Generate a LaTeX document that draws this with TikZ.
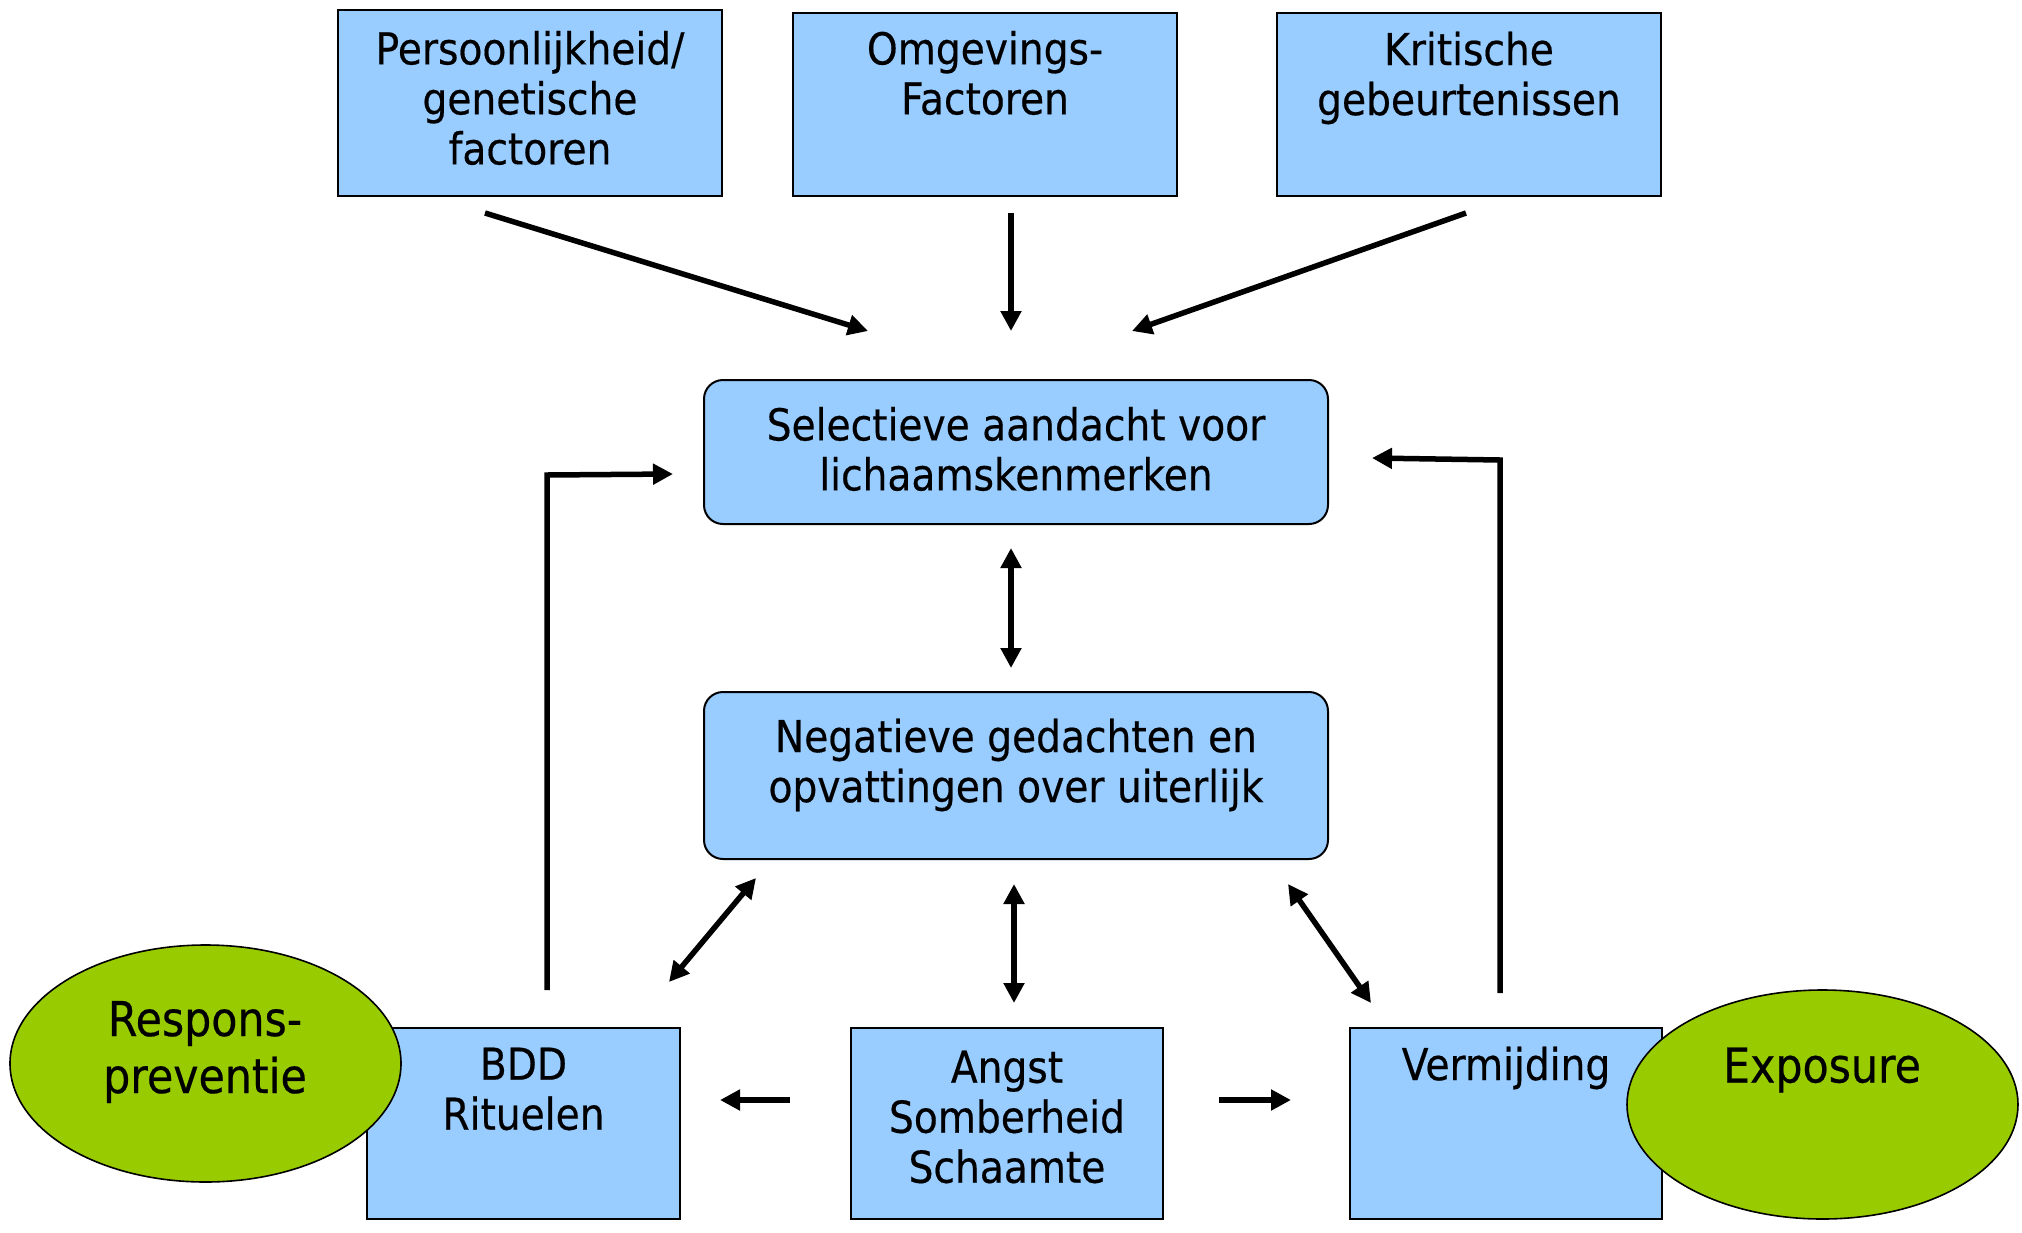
\documentclass[tikz,border=0pt]{standalone}
\usepackage{fontspec}
\setmainfont{DejaVu Sans}[FakeStretch=0.89,FakeBold=0.4]
\usetikzlibrary{arrows.meta,shapes.geometric}
\definecolor{boxblue}{HTML}{99CCFF}
\definecolor{ovalgreen}{HTML}{99CC00}
\begin{document}
\begin{tikzpicture}[x=1pt,y=-1pt,
  box/.style={draw=black, line width=2pt, fill=boxblue, inner sep=0pt},
  rbox/.style={box, rounded corners=19pt},
  oval/.style={ellipse, draw=black, line width=1.6pt, fill=ovalgreen, inner sep=0pt},
  txt/.style={inner sep=0pt, align=center, font=\fontsize{44}{50}\selectfont},
  bigtxt/.style={inner sep=0pt, align=center, font=\fontsize{48}{57}\selectfont},
  tip/.style={Triangle[length=20pt,width=20pt]},
  arr/.style={line width=5.5pt, -{Triangle[length=20pt,width=20pt]}},
  darr/.style={line width=5.5pt, {Triangle[length=20pt,width=20pt]}-{Triangle[length=20pt,width=20pt]}},
]
\useasboundingbox (0,0) rectangle (2022,1232);
\fill[white] (0,0) rectangle (2022,1232);

% boxes
\node[box, minimum width=384pt, minimum height=186pt] (pers) at (530,103) {};
\node[box, minimum width=384pt, minimum height=183pt] (omg) at (985,104.5) {};
\node[box, minimum width=384pt, minimum height=183pt] (krit) at (1469,104.5) {};
\node[rbox, minimum width=624pt, minimum height=144pt] (sel) at (1016,452) {};
\node[rbox, minimum width=624pt, minimum height=167pt] (neg) at (1016,775.5) {};
\node[box, minimum width=313pt, minimum height=191pt] (bdd) at (523.5,1123.5) {};
\node[box, minimum width=312pt, minimum height=191pt] (angst) at (1007,1123.5) {};
\node[box, minimum width=312pt, minimum height=191pt] (verm) at (1506,1123.5) {};

% ovals
\node[oval, minimum width=391pt, minimum height=237pt] (resp) at (205.5,1063.5) {};
\node[oval, minimum width=391pt, minimum height=229pt] (expo) at (1822.5,1104.5) {};

% texts
\node[txt] (perst) at (530,98) {Persoonlijkheid/\\genetische\\factoren};
\node[txt] (omgt) at (985,73) {Omgevings-\\Factoren};
\node[txt] (kritt) at (1469,78) {Kritische\\gebeurtenissen};
\node[txt] (selt) at (1016,449) {Selectieve aandacht voor\\lichaamskenmerken};
\node[txt] (negt) at (1016,765) {Negatieve gedachten en\\opvattingen over uiterlijk};
\node[txt] (bddt) at (523.5,1089) {BDD\\Rituelen};
\node[txt] (angstt) at (1007,1117) {Angst\\Somberheid\\Schaamte};
\node[txt] (vermt) at (1506,1068) {Vermijding};
\node[bigtxt] (respt) at (205,1052) {Respons-\\preventie};
\node[bigtxt] (expot) at (1822,1070) {Exposure};

% connector coordinates
\coordinate (a1s) at (485,213);  \coordinate (a1e) at (868,331);
\coordinate (a2s) at (1011,213); \coordinate (a2e) at (1011,331);
\coordinate (a3s) at (1466,213); \coordinate (a3e) at (1132,331);
\coordinate (b1s) at (1011,548); \coordinate (b1e) at (1011,668);
\coordinate (c1s) at (756,878);  \coordinate (c1e) at (669,982);
\coordinate (c2s) at (1014,884); \coordinate (c2e) at (1014,1003);
\coordinate (c3s) at (1288,884); \coordinate (c3e) at (1371,1003);
\coordinate (d1s) at (790,1100); \coordinate (d1e) at (720,1100);
\coordinate (d2s) at (1219,1100); \coordinate (d2e) at (1291,1100);
\coordinate (f1s) at (547,990);  \coordinate (f1c) at (547,475); \coordinate (f1e) at (673,474);
\coordinate (f2s) at (1500,993); \coordinate (f2c) at (1500,460); \coordinate (f2e) at (1372,458);

\draw[arr] (a1s) -- (a1e);
\draw[arr] (a2s) -- (a2e);
\draw[arr] (a3s) -- (a3e);
\draw[darr] (b1s) -- (b1e);
\draw[darr] (c1s) -- (c1e);
\draw[darr] (c2s) -- (c2e);
\draw[darr] (c3s) -- (c3e);
\draw[arr] (d1s) -- (d1e);
\draw[arr] (d2s) -- (d2e);
\draw[arr, line join=miter] (f1s) -- (f1c) -- (f1e);
\draw[arr, line join=miter] (f2s) -- (f2c) -- (f2e);
\end{tikzpicture}
\end{document}
